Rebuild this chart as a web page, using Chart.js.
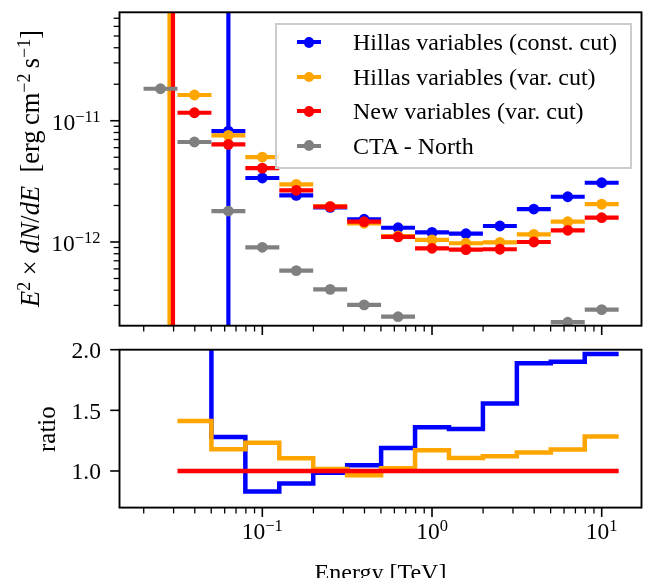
<!DOCTYPE html>
<html>
<head>
<meta charset="utf-8">
<script src="https://cdn.jsdelivr.net/npm/chart.js@4.4.1/dist/chart.umd.min.js"></script>
<style>
html,body{margin:0;padding:0;background:#fff;}
#wrap{position:relative;width:654px;height:578px;overflow:hidden;font-family:"Liberation Serif","Times New Roman",serif;color:#000;}
#wrap canvas{position:absolute;left:0;top:0;}
.rot{position:absolute;transform-origin:0 0;transform:rotate(-90deg);line-height:1;white-space:nowrap;}
.rot sup{font-size:0.68em;line-height:0;vertical-align:baseline;position:relative;top:-0.5em;}
#xlabel{position:absolute;line-height:1;white-space:nowrap;text-align:center;}
#legend{position:absolute;box-sizing:border-box;border:2px solid #cccccc;background:rgba(255,255,255,0.8);}
.lline{position:absolute;height:4px;}
.ldot{position:absolute;width:10.6px;height:10.6px;border-radius:50%;}
.ltext{position:absolute;white-space:nowrap;line-height:1;}
</style>
</head>
<body>
<div id="wrap">
  <canvas id="top" width="654" height="578"></canvas>
  <canvas id="bot" width="654" height="578"></canvas>
  <div id="ylabTop" class="rot"><i>E</i><sup>2</sup> × <i>dN</i>/<i>dE</i>&nbsp; [erg&#8201;cm<sup>−2</sup>&#8201;s<sup>−1</sup>]</div>
  <div id="ylabBot" class="rot">ratio</div>
  <div id="xlabel">Energy [TeV]</div>
  <div id="legend"></div>
</div>
<script>
// ---------------- DATA ----------------
const binCenters = [0.02512, 0.03981, 0.06310, 0.1000, 0.1585, 0.2512, 0.3981, 0.6310, 1.000, 1.585, 2.512, 3.981, 6.310, 10.00];
const binLow     = [0.01995, 0.03162, 0.05012, 0.07943, 0.1259, 0.1995, 0.3162, 0.5012, 0.7943, 1.259, 1.995, 3.162, 5.012, 7.943];
const binHigh    = [0.03162, 0.05012, 0.07943, 0.1259, 0.1995, 0.3162, 0.5012, 0.7943, 1.259, 1.995, 3.162, 5.012, 7.943, 12.59];

const seriesNames  = ['Hillas variables (const. cut)', 'Hillas variables (var. cut)', 'New variables (var. cut)', 'CTA - North'];
const seriesColors = ['#0000ff', '#ffa500', '#ff0000', '#808080'];

// E^2 dN/dE [erg cm^-2 s^-1]
const blueFlux   = [null, null, 8.22e-12, 3.37e-12, 2.42e-12, 1.93e-12, 1.54e-12, 1.31e-12, 1.20e-12, 1.17e-12, 1.355e-12, 1.87e-12, 2.36e-12, 3.08e-12];
const orangeFlux = [null, 1.63e-11, 7.58e-12, 5.02e-12, 2.99e-12, 1.97e-12, 1.426e-12, 1.121e-12, 1.04e-12, 9.76e-13, 9.94e-13, 1.157e-12, 1.47e-12, 2.05e-12];
const redFlux    = [null, 1.164e-11, 6.39e-12, 4.07e-12, 2.67e-12, 1.955e-12, 1.47e-12, 1.10e-12, 8.87e-13, 8.64e-13, 8.71e-13, 1.0e-12, 1.249e-12, 1.586e-12];
const ctaFlux    = [1.836e-11, 6.675e-12, 1.80e-12, 9.04e-13, 5.80e-13, 4.07e-13, 3.03e-13, 2.42e-13, null, null, null, null, 2.18e-13, 2.77e-13];

// vertical error bars running through the whole panel
const blueErrX   = [0.0631];  const blueErrLow   = [1e-14]; const blueErrHigh   = [1e-9];
const orangeErrX = [0.02838]; const orangeErrLow = [1e-14]; const orangeErrHigh = [1e-9];
const redErrX    = [0.02975]; const redErrLow    = [1e-14]; const redErrHigh    = [1e-9];

// ratio panel (step histogram over bin edges)
const ratioEdges  = [0.03162, 0.05012, 0.07943, 0.1259, 0.1995, 0.3162, 0.5012, 0.7943, 1.259, 1.995, 3.162, 5.012, 7.943, 12.59];
const ratioBlue   = [10.0, 1.28, 0.831, 0.897, 0.986, 1.047, 1.19, 1.36, 1.346, 1.557, 1.889, 1.90, 1.964];
const ratioOrange = [1.413, 1.18, 1.233, 1.105, 1.017, 0.965, 1.022, 1.17, 1.108, 1.122, 1.152, 1.177, 1.285];
const ratioRed    = [1.0, 1.0, 1.0, 1.0, 1.0, 1.0, 1.0, 1.0, 1.0, 1.0, 1.0, 1.0, 1.0];

// axes ranges and ticks
const xMin = 0.01440, xMax = 17.16;
const yTopMin = 2.04e-13, yTopMax = 7.84e-11;
const yBotMin = 0.698, yBotMax = 2.0;
const xMajorTicks = [0.1, 1, 10];
const xTickBase = ['10', '10', '10'];
const xTickExp  = ['−1', '0', '1'];
const xMinorTicks = [0.02,0.03,0.04,0.05,0.06,0.07,0.08,0.09,0.2,0.3,0.4,0.5,0.6,0.7,0.8,0.9,2,3,4,5,6,7,8,9];
const yTopMajorTicks = [1e-12, 1e-11];
const yTopTickBase = ['10', '10'];
const yTopTickExp  = ['−12', '−11'];
const yTopMinorTicks = [3e-13,4e-13,5e-13,6e-13,7e-13,8e-13,9e-13,2e-12,3e-12,4e-12,5e-12,6e-12,7e-12,8e-12,9e-12,2e-11,3e-11,4e-11,5e-11,6e-11,7e-11];
const yBotMajorTicks = [1.0, 1.5, 2.0];
const yBotTickLabels = ['1.0', '1.5', '2.0'];

// ---------------- helpers ----------------
const FONT = '"Liberation Serif","Times New Roman",serif';
const MAJ = 9.3, MIN = 5.8;
const TF = 23.5, SF = 16.5;

function barData(vals, errX, errLo, errHi) {
  const d = [];
  vals.forEach((v, i) => {
    if (v == null) return;
    d.push({x: binLow[i], y: v}, {x: binHigh[i], y: v}, {x: binHigh[i], y: null});
  });
  errX.forEach((x, j) => { d.push({x: x, y: errLo[j]}, {x: x, y: errHi[j]}, {x: x, y: null}); });
  return d;
}
function markerData(vals) {
  const d = [];
  vals.forEach((v, i) => { if (v != null) d.push({x: binCenters[i], y: v}); });
  return d;
}
function stepData(edges, vals) {
  const d = vals.map((v, i) => ({x: edges[i], y: v}));
  d.push({x: edges[edges.length - 1], y: vals[vals.length - 1]});
  return d;
}
function drawPow(ctx, base, exp, x, baseline, align, F, f, raise) {
  ctx.font = F + 'px ' + FONT;
  const w1 = ctx.measureText(base).width;
  ctx.font = f + 'px ' + FONT;
  const w2 = ctx.measureText(exp).width;
  const x0 = align === 'center' ? x - (w1 + w2) / 2 : x - (w1 + w2);
  ctx.textAlign = 'left'; ctx.textBaseline = 'alphabetic';
  ctx.font = F + 'px ' + FONT; ctx.fillText(base, x0, baseline);
  ctx.font = f + 'px ' + FONT; ctx.fillText(exp, x0 + w1, baseline - raise);
}

const axisDecor = {
  id: 'axisDecor',
  afterDatasetsDraw(chart, args, o) {
    const ctx = chart.ctx, a = chart.chartArea, xs = chart.scales.x, ys = chart.scales.y;
    ctx.save();
    ctx.strokeStyle = '#000'; ctx.fillStyle = '#000'; ctx.lineCap = 'butt';
    const line = (x1, y1, x2, y2) => { ctx.beginPath(); ctx.moveTo(x1, y1); ctx.lineTo(x2, y2); ctx.stroke(); };
    const inX = p => p >= a.left - 0.5 && p <= a.right + 0.5;
    const inY = p => p >= a.top - 0.5 && p <= a.bottom + 0.5;
    ctx.lineWidth = 1.6;
    xMajorTicks.forEach(v => { const p = xs.getPixelForValue(v); if (inX(p)) line(p, a.bottom, p, a.bottom + MAJ); });
    ctx.lineWidth = 1.3;
    xMinorTicks.forEach(v => { const p = xs.getPixelForValue(v); if (inX(p)) line(p, a.bottom, p, a.bottom + MIN); });
    ctx.lineWidth = 1.6;
    o.yMajor.forEach(v => { const p = ys.getPixelForValue(v); if (inY(p)) line(a.left, p, a.left - MAJ, p); });
    ctx.lineWidth = 1.3;
    (o.yMinor || []).forEach(v => { const p = ys.getPixelForValue(v); if (inY(p)) line(a.left, p, a.left - MIN, p); });
    // tick labels
    if (o.xLabels) {
      xMajorTicks.forEach((v, i) => {
        const p = xs.getPixelForValue(v);
        if (inX(p)) drawPow(ctx, xTickBase[i], xTickExp[i], p, a.bottom + 31.0, 'center', TF, SF, 7.4);
      });
    }
    if (o.yPow) {
      o.yMajor.forEach((v, i) => {
        const p = ys.getPixelForValue(v);
        if (inY(p)) drawPow(ctx, yTopTickBase[i], yTopTickExp[i], 100.5, p + 9.0, 'right', TF, SF, 8.2);
      });
    } else {
      ctx.font = TF + 'px ' + FONT; ctx.textAlign = 'right'; ctx.textBaseline = 'alphabetic';
      o.yMajor.forEach((v, i) => {
        const p = ys.getPixelForValue(v);
        if (inY(p)) ctx.fillText(yBotTickLabels[i], 100.9, p + 8.4);
      });
    }
    // spines
    ctx.lineWidth = 1.9;
    ctx.strokeRect(a.left, a.top, a.right - a.left, a.bottom - a.top);
    ctx.restore();
  }
};

// ---------------- top panel ----------------
const fluxSets = [
  {vals: blueFlux,   ex: blueErrX,   el: blueErrLow,   eh: blueErrHigh},
  {vals: orangeFlux, ex: orangeErrX, el: orangeErrLow, eh: orangeErrHigh},
  {vals: redFlux,    ex: redErrX,    el: redErrLow,    eh: redErrHigh},
  {vals: ctaFlux,    ex: [],         el: [],           eh: []}
];
const topDatasets = [];
fluxSets.forEach((s, k) => {
  const c = seriesColors[k];
  topDatasets.push({
    label: seriesNames[k] + ' err', data: barData(s.vals, s.ex, s.el, s.eh),
    borderColor: c, borderWidth: 4.2, pointRadius: 0, fill: false, spanGaps: false,
    borderCapStyle: 'butt', order: 20 - 2 * k, clip: 0
  });
  topDatasets.push({
    label: seriesNames[k], data: markerData(s.vals), showLine: false,
    pointRadius: 5.4, pointBackgroundColor: c, pointBorderColor: c, pointBorderWidth: 0,
    order: 19 - 2 * k, clip: 0
  });
});

new Chart(document.getElementById('top'), {
  type: 'line',
  data: {datasets: topDatasets},
  options: {
    responsive: false, animation: false, events: [],
    layout: {padding: {left: 119.5, right: 12.5, top: 12.3, bottom: 252.3}},
    scales: {
      x: {type: 'logarithmic', min: xMin, max: xMax, display: false},
      y: {type: 'logarithmic', min: yTopMin, max: yTopMax, display: false}
    },
    plugins: {
      legend: {display: false}, tooltip: {enabled: false},
      axisDecor: {yMajor: yTopMajorTicks, yMinor: yTopMinorTicks, xLabels: false, yPow: true}
    }
  },
  plugins: [axisDecor]
});

// ---------------- ratio panel ----------------
const ratioSets = [ratioBlue, ratioOrange, ratioRed];
const botDatasets = ratioSets.map((r, k) => ({
  label: seriesNames[k], data: stepData(ratioEdges, r), stepped: 'before',
  borderColor: seriesColors[k], borderWidth: 4.5, pointRadius: 0, fill: false,
  order: 10 - k
}));

new Chart(document.getElementById('bot'), {
  type: 'line',
  data: {datasets: botDatasets},
  options: {
    responsive: false, animation: false, events: [],
    layout: {padding: {left: 119.5, right: 12.5, top: 349.7, bottom: 70.4}},
    scales: {
      x: {type: 'logarithmic', min: xMin, max: xMax, display: false},
      y: {type: 'linear', min: yBotMin, max: yBotMax, display: false}
    },
    plugins: {
      legend: {display: false}, tooltip: {enabled: false},
      axisDecor: {yMajor: yBotMajorTicks, xLabels: true, yPow: false}
    }
  },
  plugins: [axisDecor]
});

// ---------------- labels & legend ----------------
function placeRot(id, F, baselineX, centerY) {
  const el = document.getElementById(id);
  el.style.fontSize = F + 'px';
  const w = el.offsetWidth;
  el.style.left = (baselineX - 0.8375 * F) + 'px';
  el.style.top = (centerY + w / 2) + 'px';
}
placeRot('ylabTop', 26.5, 39.5, 168.5);
placeRot('ylabBot', 25, 54.5, 428.7);

const xl = document.getElementById('xlabel');
xl.style.fontSize = '24px';
xl.style.left = '119.5px'; xl.style.width = '522px';
xl.style.top = (580.0 - 0.8375 * 24) + 'px';

const lg = document.getElementById('legend');
const LGX = 275, LGY = 22.7;
lg.style.left = LGX + 'px'; lg.style.top = LGY + 'px';
lg.style.width = (631.7 - LGX) + 'px'; lg.style.height = (169 - LGY) + 'px';
const rowCenters = [42.5, 76.9, 111.4, 145.8];
seriesNames.forEach((name, k) => {
  const cy = rowCenters[k] - LGY - 2;
  const c = seriesColors[k];
  const ln = document.createElement('div'); ln.className = 'lline';
  ln.style.background = c; ln.style.left = (297 - LGX - 2) + 'px'; ln.style.width = '24px';
  ln.style.top = (cy - 2) + 'px';
  const dt = document.createElement('div'); dt.className = 'ldot';
  dt.style.background = c; dt.style.left = (309 - LGX - 2 - 5.3) + 'px'; dt.style.top = (cy - 5.3) + 'px';
  const tx = document.createElement('div'); tx.className = 'ltext';
  tx.style.fontSize = '24px'; tx.textContent = name;
  tx.style.left = (353 - LGX - 2) + 'px';
  tx.style.top = (cy + 8.0 - 0.8375 * 24) + 'px';
  lg.appendChild(ln); lg.appendChild(dt); lg.appendChild(tx);
});
</script>
</body>
</html>
